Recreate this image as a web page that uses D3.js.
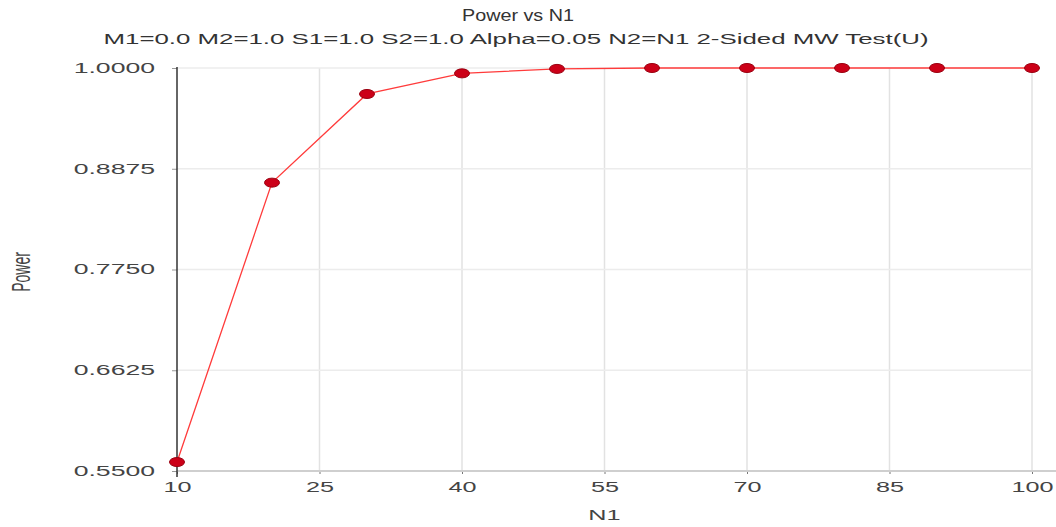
<!DOCTYPE html>
<html>
<head>
<meta charset="utf-8">
<script src="https://cdn.jsdelivr.net/npm/d3@7"></script>
<style>
  body { margin: 0; background: #fff; }
  text { font-family: "Liberation Sans", Arial, sans-serif; }
</style>
</head>
<body>
<script>
// Data
const n1Values = [10, 20, 30, 40, 50, 60, 70, 80, 90, 100];
const powerValues = [0.560, 0.872, 0.971, 0.994, 0.999, 1.0, 1.0, 1.0, 1.0, 1.0];
const xTicks = [10, 25, 40, 55, 70, 85, 100];
const yTicks = [0.55, 0.6625, 0.775, 0.8875, 1.0];
const titleText = "Power vs N1";
const subtitleText = "M1=0.0 M2=1.0 S1=1.0 S2=1.0 Alpha=0.05 N2=N1 2-Sided MW Test(U)";

const W = 1056, H = 527;
const margin = { top: 68, right: 24, bottom: 56, left: 177 };
const width = W - margin.left - margin.right;
const height = H - margin.top - margin.bottom;
const stretch = 1.8; // text in the original is drawn wide

const svg = d3.select("body").append("svg")
    .attr("width", W)
    .attr("height", H);

const g = svg.append("g")
    .attr("transform", `translate(${margin.left}, ${margin.top})`);

const x = d3.scaleLinear().domain([10, 100]).range([0, width]);
const y = d3.scaleLinear().domain([0.55, 1.0]).range([height, 0]);

// widen a text element horizontally
function widen(sel, factor) {
    sel.each(function() {
        const len = this.getComputedTextLength();
        d3.select(this)
            .attr("textLength", len * factor)
            .attr("lengthAdjust", "spacingAndGlyphs");
    });
}

// Grid
g.selectAll(".vgrid")
    .data(xTicks.slice(1))
    .enter().append("line")
    .attr("x1", d => x(d)).attr("x2", d => x(d))
    .attr("y1", 0).attr("y2", height)
    .attr("stroke", "#e2e2e2")
    .attr("stroke-width", 1.5);

g.selectAll(".hgrid")
    .data(yTicks.slice(1))
    .enter().append("line")
    .attr("x1", 0).attr("x2", width)
    .attr("y1", d => y(d)).attr("y2", d => y(d))
    .attr("stroke", "#ececec")
    .attr("stroke-width", 1.5);

// X axis
const xAxis = g.append("g")
    .attr("transform", `translate(0, ${height})`)
    .call(d3.axisBottom(x).tickValues(xTicks).tickSize(3).tickPadding(8).tickFormat(d3.format("d")));
xAxis.select(".domain").remove();
xAxis.append("line")
    .attr("x1", 0).attr("x2", width + 24)
    .attr("stroke", "#cfcfcf").attr("stroke-width", 2);
xAxis.selectAll(".tick line").attr("stroke", "#777");
xAxis.selectAll("text")
    .attr("fill", "#444")
    .style("font-size", "14px")
    .call(widen, stretch);

// Y axis
const yAxis = g.append("g")
    .call(d3.axisLeft(y).tickValues(yTicks).tickSize(5).tickPadding(17).tickFormat(d3.format(".4f")));
yAxis.select(".domain").remove();
yAxis.append("line")
    .attr("y1", -1).attr("y2", height + 6)
    .attr("stroke", "#333").attr("stroke-width", 1.5);
yAxis.selectAll(".tick line").attr("stroke", "#999");
yAxis.selectAll("text")
    .attr("fill", "#444")
    .style("font-size", "14px")
    .call(widen, 1.9);

// Line and points
const pts = n1Values.map((d, i) => ({ n: d, p: powerValues[i] }));

g.append("path")
    .datum(pts)
    .attr("fill", "none")
    .attr("stroke", "#ff3b3b")
    .attr("stroke-width", 1.3)
    .attr("d", d3.line().x(d => x(d.n)).y(d => y(d.p)));

g.selectAll(".pt")
    .data(pts)
    .enter().append("ellipse")
    .attr("cx", d => x(d.n))
    .attr("cy", d => y(d.p))
    .attr("rx", 7.5)
    .attr("ry", 4.5)
    .attr("fill", "#cc0018")
    .attr("stroke", "#9a0010")
    .attr("stroke-width", 1);

// Titles
svg.append("text")
    .attr("x", 518).attr("y", 21)
    .attr("text-anchor", "middle")
    .attr("fill", "#333")
    .style("font-size", "17px")
    .text(titleText)
    .attr("textLength", 112)
    .attr("lengthAdjust", "spacingAndGlyphs");

svg.append("text")
    .attr("x", 516).attr("y", 44)
    .attr("text-anchor", "middle")
    .attr("fill", "#333")
    .style("font-size", "14px")
    .text(subtitleText)
    .attr("textLength", 825)
    .attr("lengthAdjust", "spacingAndGlyphs");

svg.append("text")
    .attr("x", margin.left + x(55)).attr("y", 520)
    .attr("text-anchor", "middle")
    .attr("fill", "#444")
    .style("font-size", "14px")
    .text("N1")
    .call(widen, stretch);

svg.append("text")
    .attr("transform", `translate(30, 272) scale(${stretch}, 1) rotate(-90)`)
    .attr("text-anchor", "middle")
    .attr("fill", "#444")
    .style("font-size", "14px")
    .text("Power");
</script>
</body>
</html>
